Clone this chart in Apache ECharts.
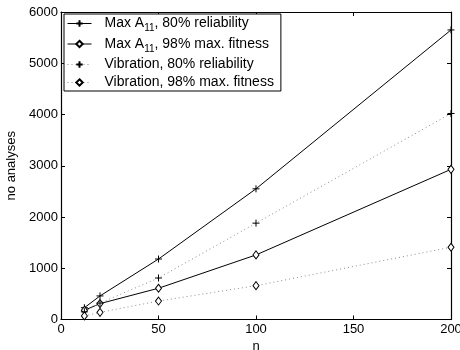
<!DOCTYPE html>
<html>
<head>
<meta charset="utf-8">
<script src="https://cdn.jsdelivr.net/npm/echarts@6/dist/echarts.min.js"></script>
<style>html,body{margin:0;padding:0;background:#fff}#c{width:460px;height:350px}</style>
</head>
<body>
<div id="c"></div>
<script>
const nValues = [12, 20, 50, 100, 200];
const maxA80 = [230, 460, 1180, 2550, 5650];
const maxA98 = [180, 310, 610, 1260, 2930];
const vib80 = [150, 320, 810, 1880, 4020];
const vib98 = [70, 140, 360, 660, 1410];
const seriesNames = ['Max A_11, 80% reliability', 'Max A_11, 98% max. fitness', 'Vibration, 80% reliability', 'Vibration, 98% max. fitness'];
const xTicks = [0, 50, 100, 150, 200];
const yTicks = [0, 1000, 2000, 3000, 4000, 5000, 6000];

const FONT = 'Liberation Sans, Arial, sans-serif';
const plusPath = 'path://M0,5L10,5M5,0L5,10';
const pair = arr => nValues.map((n, i) => [n, arr[i]]);

const axisCommon = {
  axisLine: { show: true, onZero: false, lineStyle: { color: '#000', width: 1.2 } },
  axisTick: { show: true, inside: true, length: 4, lineStyle: { color: '#000' } },
  splitLine: { show: false }
};

function mk(name, data, solid, plus) {
  return {
    name: name, type: 'line', data: pair(data),
    symbol: plus ? plusPath : 'diamond',
    symbolSize: plus ? [7, 7] : [6, 8],
    itemStyle: plus ? { color: '#000', borderColor: '#000', borderWidth: 1 } : { color: '#fff', borderColor: '#000', borderWidth: 1 },
    lineStyle: solid ? { color: '#000', width: 1, type: 'solid' } : { color: '#8a8a8a', width: 1, type: [1, 3] },
    emphasis: { disabled: true },
    animation: false
  };
}

const chart = echarts.init(document.getElementById('c'), null, { renderer: 'canvas' });
chart.setOption({
  animation: false,
  textStyle: { fontFamily: FONT },
  grid: { left: 61, right: 9, top: 12, bottom: 30.5, containLabel: false, outerBoundsMode: 'none' },
  legend: {
    left: 64, top: 14, orient: 'vertical',
    backgroundColor: '#fff', borderColor: '#000', borderWidth: 1,
    padding: [2, 7, 1, 3], itemGap: 3, itemWidth: 24, itemHeight: 8,
    lineStyle: { width: 1 },
    data: seriesNames,
    formatter: name => name.replace('_11', '{sub|11}'),
    textStyle: {
      fontFamily: FONT, fontSize: 14, color: '#000', padding: [0, 0, 0, 8], lineHeight: 15,
      rich: { sub: { fontSize: 10, fontFamily: FONT, color: '#000', padding: [10, 0, 0, 0] } }
    }
  },
  xAxis: [
    Object.assign({}, axisCommon, {
      type: 'value', position: 'bottom', min: 0, max: 200, interval: 50,
      name: 'n', nameLocation: 'middle', nameGap: 18,
      nameTextStyle: { fontFamily: FONT, fontSize: 13, color: '#000' },
      axisLabel: { color: '#000', fontFamily: FONT, fontSize: 13, margin: 3, showMaxLabel: true,
        formatter: v => xTicks.includes(v) ? String(v) : '' }
    }),
    Object.assign({}, axisCommon, {
      type: 'value', position: 'top', min: 0, max: 200, interval: 50,
      axisLabel: { show: false }
    })
  ],
  yAxis: [
    Object.assign({}, axisCommon, {
      type: 'value', position: 'left', min: 0, max: 6000, interval: 1000,
      name: 'no analyses', nameLocation: 'middle', nameGap: 40, nameRotate: 90,
      nameTextStyle: { fontFamily: FONT, fontSize: 13, color: '#000' },
      axisLabel: { color: '#000', fontFamily: FONT, fontSize: 13, margin: 3,
        formatter: v => yTicks.includes(v) ? String(v) : '' }
    }),
    Object.assign({}, axisCommon, {
      type: 'value', position: 'right', min: 0, max: 6000, interval: 1000,
      axisLabel: { show: false }
    })
  ],
  series: [
    mk(seriesNames[0], maxA80, true, true),
    mk(seriesNames[1], maxA98, true, false),
    mk(seriesNames[2], vib80, false, true),
    mk(seriesNames[3], vib98, false, false)
  ]
});
</script>
</body>
</html>
